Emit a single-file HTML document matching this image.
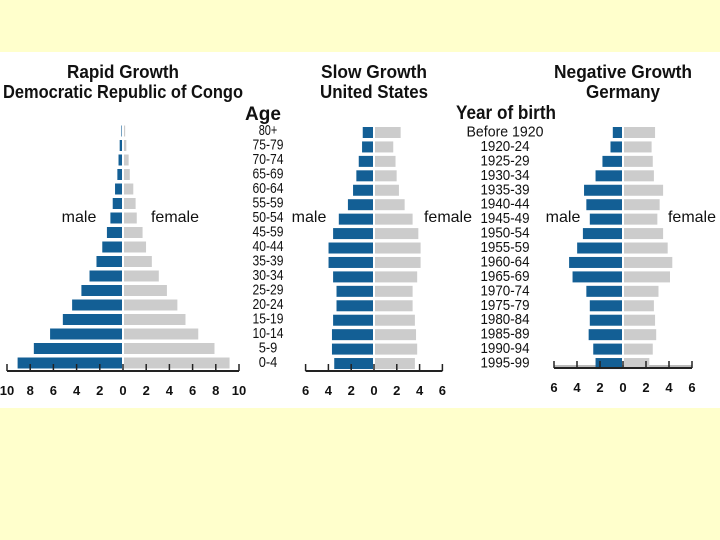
<!DOCTYPE html>
<html><head><meta charset="utf-8"><style>
html,body{margin:0;padding:0;background:#FFFFCC;}
svg{display:block;}
text{font-family:"Liberation Sans Narrow","Liberation Sans",sans-serif;fill:#111;}
</style></head><body>
<svg id="chart" width="720" height="540" xmlns="http://www.w3.org/2000/svg">
<rect x="0" y="0" width="720" height="540" fill="#FFFFCC"/>
<rect x="0" y="52" width="720" height="356" fill="#ffffff"/>
</svg>
<script>
const ageLabels=["80+","75-79","70-74","65-69","60-64","55-59","50-54","45-59","40-44","35-39","30-34","25-29","20-24","15-19","10-14","5-9","0-4"];
const yearLabels=["Before 1920","1920-24","1925-29","1930-34","1935-39","1940-44","1945-49","1950-54","1955-59","1960-64","1965-69","1970-74","1975-79","1980-84","1985-89","1990-94","1995-99"];
const congoMale=[0.05,0.2,0.3,0.4,0.6,0.8,1.0,1.3,1.7,2.2,2.8,3.5,4.3,5.1,6.2,7.6,9.0];
const congoFemale=[0.1,0.2,0.4,0.5,0.8,1.0,1.1,1.6,1.9,2.4,3.0,3.7,4.6,5.3,6.4,7.8,9.1];
const usMale=[0.9,0.96,1.25,1.46,1.75,2.2,3.0,3.5,3.9,3.9,3.5,3.2,3.2,3.5,3.6,3.6,3.4];
const usFemale=[2.25,1.6,1.8,1.9,2.1,2.6,3.3,3.8,4.0,4.0,3.7,3.3,3.3,3.5,3.6,3.7,3.5];
const deMale=[0.8,1.0,1.7,2.3,3.3,3.1,2.8,3.4,3.9,4.6,4.3,3.1,2.8,2.8,2.9,2.5,2.3];
const deFemale=[2.7,2.4,2.5,2.6,3.4,3.1,2.9,3.4,3.8,4.2,4.0,3.0,2.6,2.7,2.8,2.5,2.2];
const congoTicks=[10,8,6,4,2,0,2,4,6,8,10];
const smallTicks=[6,4,2,0,2,4,6];

const svg=document.getElementById('chart');
const NS='http://www.w3.org/2000/svg';
function mk(tag,attrs,parent){const e=document.createElementNS(NS,tag);for(const k in attrs)e.setAttribute(k,attrs[k]);(parent||svg).appendChild(e);return e;}
function txt(x,y,s,size,weight,anchor,parent){const t=mk('text',{x:x,y:y,'font-size':size,'font-weight':weight,'text-anchor':anchor},parent);t.textContent=s;return t;}

function pyramid(id,cx,scale,y0,pitch,axisY,maxV,males,females,ticks,title1,title2,tw1,tw2){
  const g=mk('g',{});
  
  
  const sx=v=>v*scale;
  const yc=i=>y0+i*pitch;
  males.forEach((v,i)=>{
    const r=mk('rect',{x:cx-1-sx(v),y:yc(i)-5.5,width:sx(v),height:11,fill:'#135f95'},g);
    
    
  });
  females.forEach((v,i)=>{
    const r=mk('rect',{x:cx+1,y:yc(i)-5.5,width:sx(v),height:11,fill:'#cccccc'},g);
    
    
  });
  const ax=mk('line',{x1:cx-sx(maxV),x2:cx+sx(maxV),y1:axisY,y2:axisY,stroke:'#222','stroke-width':2},g);
  
  
  ticks.forEach((t,i)=>{
    const x=cx+sx(i<ticks.length/2-0.5?-t:t);
    mk('line',{x1:x,x2:x,y1:axisY-7,y2:axisY,stroke:'#222','stroke-width':1.5},g);
    const l=txt(x,axisY+24,String(t),13,'bold','middle',g);
    
    
  });
  const a=txt(cx,78,title1,18,'bold','middle',g);a.setAttribute('textLength',tw1);a.setAttribute('lengthAdjust','spacingAndGlyphs');
  
  
  const b=txt(cx,98,title2,18,'bold','middle',g);b.setAttribute('textLength',tw2);b.setAttribute('lengthAdjust','spacingAndGlyphs');
  
  
}
pyramid('congo',123,11.6,131,14.5,371,10,congoMale,congoFemale,congoTicks,'Rapid Growth','Democratic Republic of Congo',112,240);
pyramid('us',374,11.4,132.5,14.44,371,6,usMale,usFemale,smallTicks,'Slow Growth','United States',106,108);
mk('line',{x1:554,x2:692,y1:366,y2:366,stroke:'#bbbbbb','stroke-width':2});
pyramid('germany',623,11.5,132.5,14.44,368,6,deMale,deFemale,smallTicks,'Negative Growth','Germany',138,74);

function rowLabels(labels,cx,y0,pitch,id){
  labels.forEach((s,i)=>{
    const t=txt(cx,y0+i*pitch+5,s,15,'normal','middle');
    t.setAttribute('textLength',s.length>6?(s.length*7):(s.length*6.2));
    t.setAttribute('lengthAdjust','spacingAndGlyphs');
    
    
  });
}
rowLabels(ageLabels,268,130,14.5,'age');
rowLabels(yearLabels,505,131.5,14.44,'birth-year');
const h1=txt(263,120,'Age',19,'bold','middle');
const h2=txt(506,119,'Year of birth',19,'bold','middle');h2.setAttribute('textLength',100);h2.setAttribute('lengthAdjust','spacingAndGlyphs');

[['male',79,222],['female',175,222],['male',309,222],['female',448,222],['male',563,222],['female',692,222]].forEach(([s,x,y])=>{
  const t=txt(x,y,s,16,'normal','middle');
  
  
});
</script>
</body></html>
